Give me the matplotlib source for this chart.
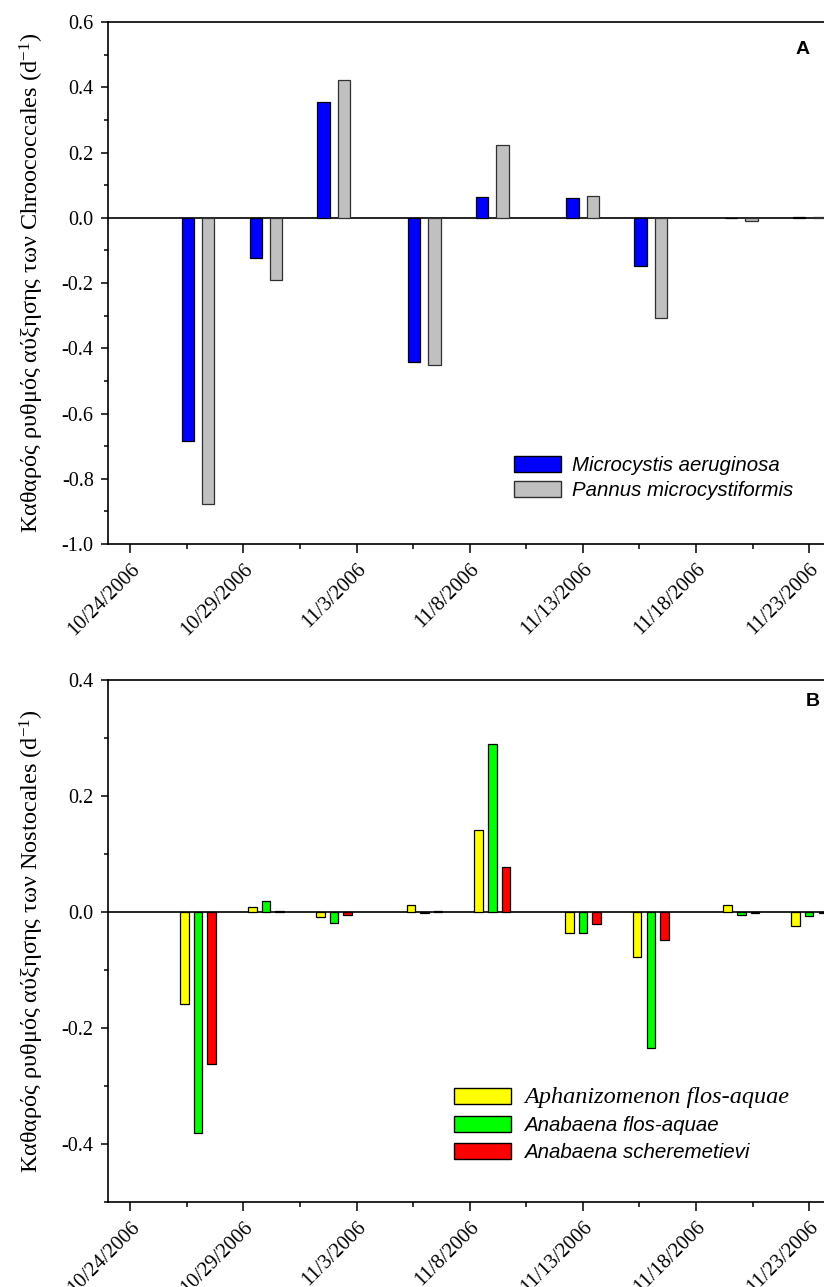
import matplotlib
matplotlib.use("Agg")
import matplotlib.pyplot as plt
import matplotlib.dates as mdates
import matplotlib.transforms as mtransforms
from matplotlib.patches import Patch
import datetime as dt

# sampling dates (same for both panels)
dates = ["2006-10-27", "2006-10-30", "2006-11-02", "2006-11-06", "2006-11-09",
         "2006-11-13", "2006-11-16", "2006-11-20", "2006-11-23"]

# panel A - Chroococcales
microcystis = [-0.685, -0.122, 0.355, -0.442, 0.065, 0.061, -0.147, 0.0, 0.003]
pannus = [-0.877, -0.190, 0.423, -0.451, 0.222, 0.068, -0.306, -0.009, 0.002]

# panel B - Nostocales
aphanizomenon = [-0.159, 0.008, -0.010, 0.012, 0.140, -0.037, -0.079, 0.011, -0.024]
anabaena_fa = [-0.381, 0.018, -0.019, -0.003, 0.289, -0.036, -0.235, -0.006, -0.008]
anabaena_sch = [-0.263, 0.002, -0.005, 0.002, 0.077, -0.021, -0.048, -0.003, -0.003]

tick_dates = ["2006-10-24", "2006-10-29", "2006-11-03", "2006-11-08",
              "2006-11-13", "2006-11-18", "2006-11-23"]

serif = "Liberation Serif"
sans = "Liberation Sans"
plt.rcParams["font.family"] = [serif, "DejaVu Serif"]
plt.rcParams["font.size"] = 14.5
plt.rcParams["mathtext.fontset"] = "custom"
plt.rcParams["mathtext.rm"] = serif
plt.rcParams["mathtext.it"] = serif + ":italic"

days = [mdates.date2num(dt.datetime.fromisoformat(d)) for d in dates]
ticks = [mdates.date2num(dt.datetime.fromisoformat(d)) for d in tick_dates]
minor = [t + 2.5 for t in ticks[:-1]]
x0 = mdates.date2num(dt.datetime(2006, 10, 23))
x1 = mdates.date2num(dt.datetime(2006, 11, 24))

fig = plt.figure(figsize=(8.24, 12.87), dpi=100)
axA = fig.add_axes([0.1305, 0.5773, 0.879, 0.4056])
axB = fig.add_axes([0.1305, 0.0663, 0.879, 0.4056])
shift = mtransforms.ScaledTranslation(0.01, 0.02, fig.dpi_scale_trans)


def style_axis(ax, ylim, ylabel):
    ax.set_xticks(ticks)
    ax.set_xticks(minor, minor=True)
    ax.set_xlim(x0, x1)
    ax.set_ylim(*ylim)
    ax.set_xticklabels([f"{int(d[5:7])}/{int(d[8:])}/2006" for d in tick_dates],
                       rotation=45, ha="right", va="top", rotation_mode="anchor",
                       fontfamily=serif, fontsize=14.8)
    for lbl in ax.get_xticklabels():
        lbl.set_transform(lbl.get_transform() + shift)
    ax.tick_params(axis="x", which="major", direction="out", length=6.5, width=1.1, pad=5)
    ax.tick_params(axis="x", which="minor", direction="out", length=3.5, width=1.1)
    ax.tick_params(axis="y", which="major", direction="out", length=5, width=1.1, pad=5)
    ax.tick_params(axis="y", which="minor", direction="out", length=3, width=1.1)
    ax.spines["right"].set_visible(False)
    for s in ["left", "top", "bottom"]:
        ax.spines[s].set_linewidth(1.2)
    ax.axhline(0, color="black", lw=1.2, zorder=1)
    ax.set_ylabel(ylabel, fontfamily=serif, fontsize=17.5, labelpad=11)


# panel A
w = 0.55
axA.bar([d - 0.45 for d in days], microcystis, width=w, color="#0000ff", edgecolor="black", lw=0.9, zorder=2)
axA.bar([d + 0.45 for d in days], pannus, width=w, color="#c0c0c0", edgecolor="#303030", lw=0.9, zorder=2)
axA.set_yticks([-1.0, -0.8, -0.6, -0.4, -0.2, 0.0, 0.2, 0.4, 0.6])
axA.set_yticklabels(["-1.0", "-0.8", "-0.6", "-0.4", "-0.2", "0.0", "0.2", "0.4", "0.6"],
                    fontfamily=serif, fontsize=14.5)
axA.set_yticks([-0.9, -0.7, -0.5, -0.3, -0.1, 0.1, 0.3, 0.5], minor=True)
style_axis(axA, (-1.0, 0.6), "Καθαρός ρυθμός αύξησης των Chroococcales (d$^{-1}$)")

legA = axA.legend(handles=[Patch(facecolor="#0000ff", edgecolor="black", label="Microcystis aeruginosa"),
                           Patch(facecolor="#c0c0c0", edgecolor="#303030", label="Pannus microcystiformis")],
                  loc="upper left", bbox_to_anchor=(514 / 824, 1 - 456 / 1287), bbox_transform=fig.transFigure,
                  frameon=False, borderpad=0, borderaxespad=0, handlelength=2.3, handleheight=0.8,
                  handletextpad=0.55, labelspacing=0.3,
                  prop={"family": sans, "style": "italic", "size": 14.7})

# panel B
wb = 0.375
axB.bar([d - 0.6 for d in days], aphanizomenon, width=wb, color="#ffff00", edgecolor="black", lw=0.9, zorder=2)
axB.bar(days, anabaena_fa, width=wb, color="#00ff00", edgecolor="black", lw=0.9, zorder=2)
axB.bar([d + 0.6 for d in days], anabaena_sch, width=wb, color="#ff0000", edgecolor="black", lw=0.9, zorder=2)
axB.set_yticks([-0.4, -0.2, 0.0, 0.2, 0.4])
axB.set_yticklabels(["-0.4", "-0.2", "0.0", "0.2", "0.4"], fontfamily=serif, fontsize=14.5)
axB.set_yticks([-0.5, -0.3, -0.1, 0.1, 0.3], minor=True)
style_axis(axB, (-0.5, 0.4), "Καθαρός ρυθμός αύξησης των Nostocales (d$^{-1}$)")

legB = axB.legend(handles=[Patch(facecolor="#ffff00", edgecolor="black", label="Aphanizomenon flos-aquae"),
                           Patch(facecolor="#00ff00", edgecolor="black", label="Anabaena flos-aquae"),
                           Patch(facecolor="#ff0000", edgecolor="black", label="Anabaena scheremetievi")],
                  loc="upper left", bbox_to_anchor=(454 / 824, 1 - 1087 / 1287), bbox_transform=fig.transFigure,
                  frameon=False, borderpad=0, borderaxespad=0, handlelength=2.75, handleheight=0.8,
                  handletextpad=0.65, labelspacing=0.4,
                  prop={"family": sans, "style": "italic", "size": 14.8})
legB.get_texts()[0].set_fontfamily(serif)
legB.get_texts()[0].set_fontsize(17.5)

fig.text(803 / 824, 1 - 49 / 1287, "A", fontfamily=sans, fontweight="bold", fontsize=14, ha="center", va="center")
fig.text(813 / 824, 1 - 702 / 1287, "B", fontfamily=sans, fontweight="bold", fontsize=14, ha="center", va="center")

fig.savefig("out.png", dpi=100)
